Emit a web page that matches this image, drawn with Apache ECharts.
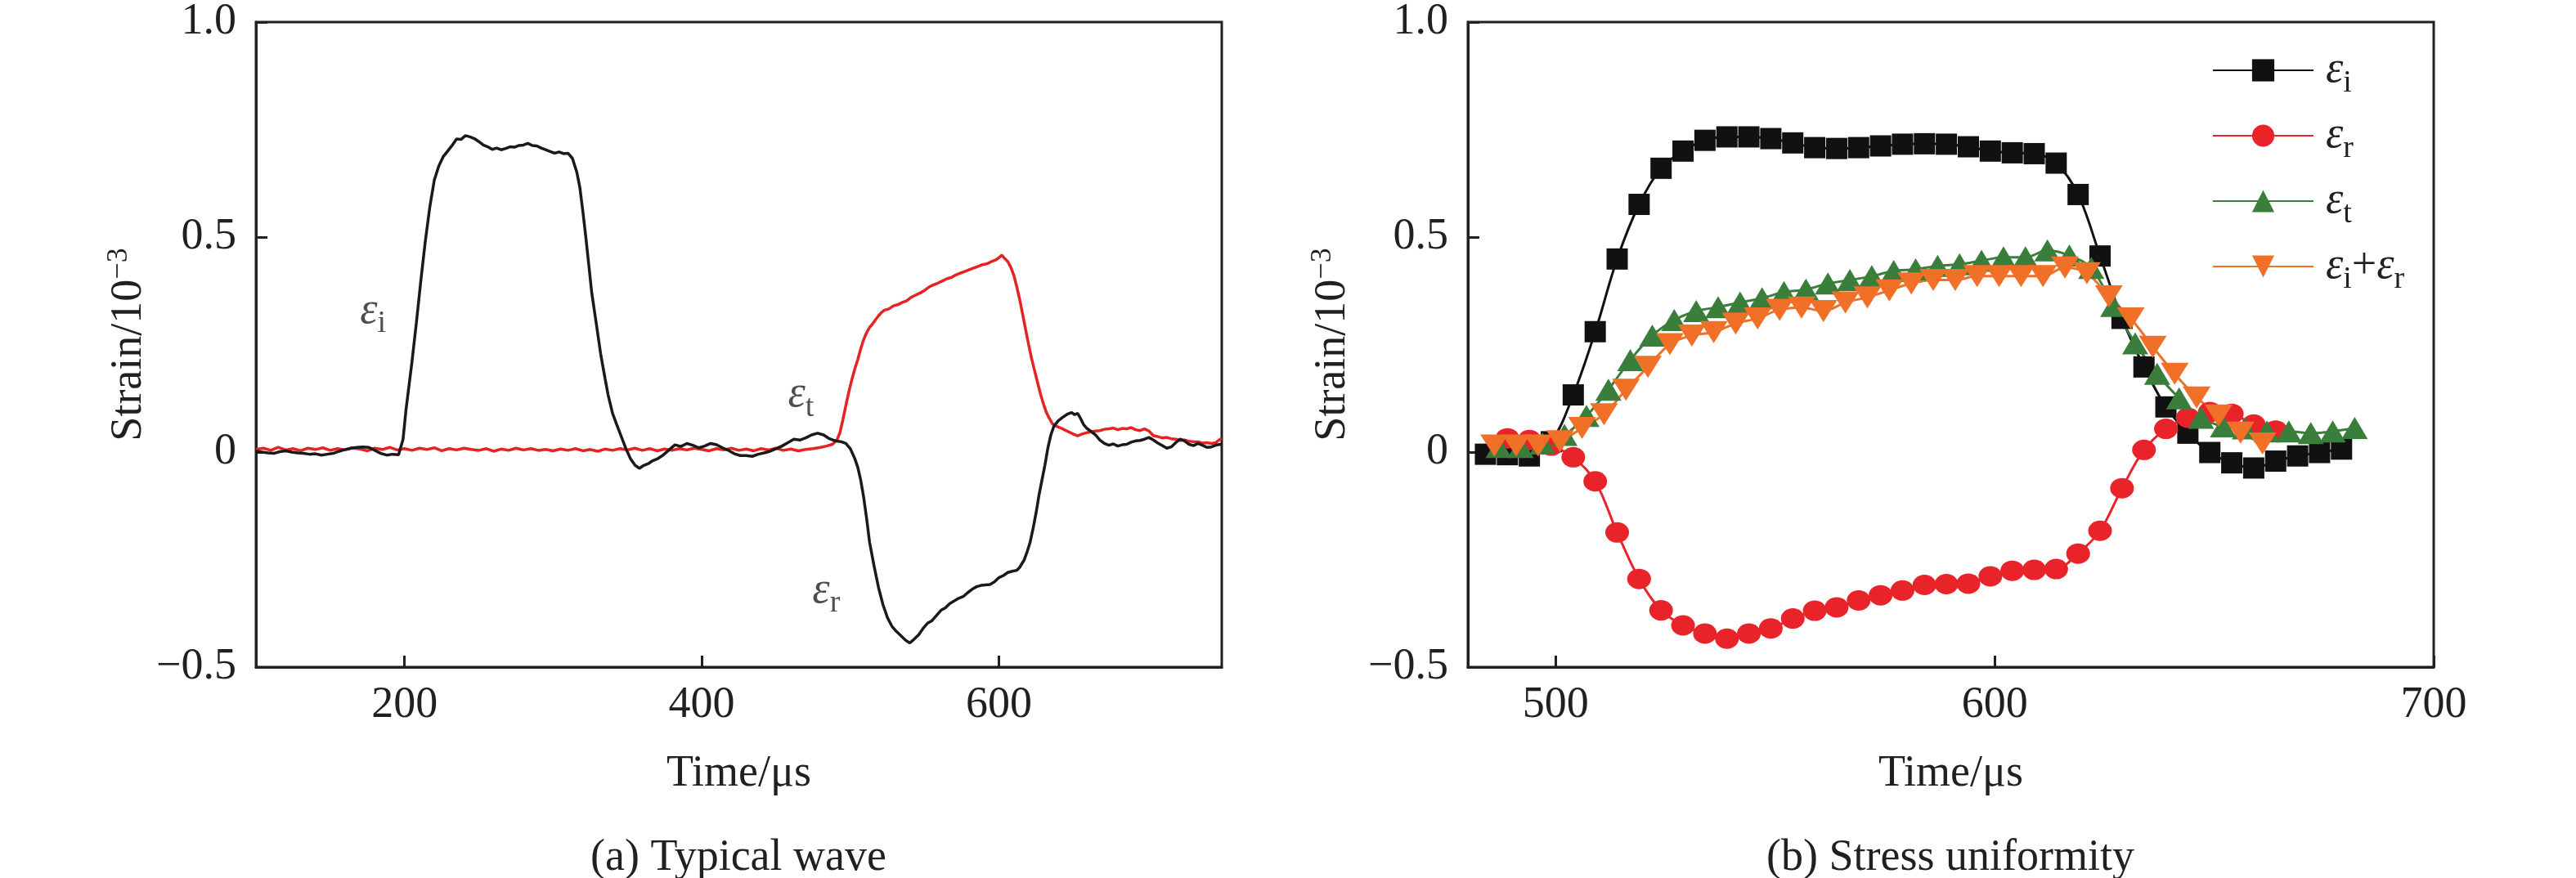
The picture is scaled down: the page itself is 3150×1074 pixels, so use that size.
<!DOCTYPE html>
<html>
<head>
<meta charset="utf-8">
<script src="https://cdn.jsdelivr.net/npm/echarts@6/dist/echarts.min.js"></script>
<style>
html,body{margin:0;padding:0;background:#fff}
#chartmain{width:3150px;height:1074px}
</style>
</head>
<body>
<div id="chartmain"></div>
<script>
// ---- (a) Typical wave: incident bar (black) and transmission bar (red) ----
var barITime = [100,104,108,112,116,120,124,128,132,136,140,144,148,152,156,160,164,168,172,176,180,184,188,192,196,
  199,201,205,208,211,214,217,220,223,226,229,232,235,238,241,244,247,250,253,256,259,262,265,268,271,274,277,280,283,286,289,292,295,298,301,304,307,310,313,316,318,320,322,324,326,329,332,335,337,340,343,346,349,352,355,358,361,364,367,370,374,378,382,386,390,394,398,402,406,410,414,418,422,426,430,434,438,442,446,450,454,458,462,466,470,474,478,482,486,490,494,497,500,503,505,507,509,511,513,516,519,522,525,528,531,534,537,540,543,546,549,552,555,558,561,564,567,570,573,576,579,582,585,588,591,594,597,600,603,606,609,612,614,617,619,621,623,625,627,629,631,633,635,637,640,643,646,649,651,653,655,657,659,662,665,668,671,674,677,680,683,686,689,692,695,698,701,704,707,710,713,716,719,722,725,728,731,734,737,740,743,746,749,750];
var barIStrain = [0.002,0.000,-0.002,-0.003,0.001,0.003,0.000,-0.002,-0.003,-0.005,-0.004,-0.007,-0.005,-0.003,0.002,0.006,0.009,0.011,0.012,0.011,0.004,-0.003,-0.007,-0.005,-0.006,
  0.030,0.099,0.210,0.302,0.400,0.491,0.570,0.632,0.665,0.687,0.700,0.713,0.728,0.727,0.736,0.733,0.729,0.722,0.714,0.710,0.704,0.707,0.703,0.706,0.710,0.709,0.713,0.714,0.718,0.713,0.712,0.707,0.703,0.699,0.695,0.698,0.694,0.695,0.683,0.650,0.615,0.560,0.500,0.435,0.370,0.300,0.228,0.170,0.133,0.090,0.062,0.035,0.008,-0.015,-0.030,-0.038,-0.031,-0.027,-0.020,-0.016,-0.007,0.005,0.017,0.013,0.020,0.016,0.010,0.014,0.020,0.017,0.010,0.004,-0.004,-0.008,-0.008,-0.010,-0.005,-0.002,0.002,0.008,0.014,0.022,0.030,0.028,0.033,0.040,0.044,0.040,0.031,0.026,0.024,0.020,0.008,-0.015,-0.035,-0.065,-0.105,-0.155,-0.210,-0.265,-0.315,-0.355,-0.385,-0.405,-0.417,-0.427,-0.437,-0.444,-0.435,-0.425,-0.410,-0.398,-0.392,-0.380,-0.368,-0.362,-0.352,-0.346,-0.340,-0.336,-0.327,-0.319,-0.313,-0.310,-0.309,-0.308,-0.302,-0.292,-0.287,-0.280,-0.277,-0.275,-0.268,-0.251,-0.232,-0.210,-0.178,-0.142,-0.100,-0.065,-0.030,0.010,0.040,0.060,0.073,0.081,0.088,0.092,0.087,0.090,0.078,0.064,0.056,0.048,0.040,0.028,0.020,0.016,0.019,0.014,0.017,0.018,0.023,0.026,0.027,0.030,0.034,0.028,0.021,0.015,0.009,0.012,0.022,0.030,0.026,0.018,0.015,0.020,0.016,0.011,0.012,0.016,0.018,0.017];

var barTTime = [100,105,110,115,120,125,130,135,140,145,150,155,160,165,170,175,180,185,190,195,200,205,210,215,220,225,230,235,240,245,250,255,260,265,270,275,280,285,290,295,300,305,310,315,320,325,330,335,340,345,350,355,360,365,370,375,380,385,390,395,400,405,410,415,420,425,430,435,440,445,450,455,460,465,470,475,480,
  484,488,491,493,495,497,499,501,503,505,507,509,511,513,515,517,519,521,523,526,529,532,535,538,541,544,547,550,553,556,559,562,565,568,571,574,577,580,583,586,589,592,595,598,600,602,604,606,608,610,612,614,616,618,620,622,624,626,628,630,632,634,636,638,641,644,647,650,653,656,659,662,665,668,671,674,677,680,683,686,689,692,695,698,701,704,707,710,713,716,719,722,725,728,731,734,737,740,743,746,749,750];
var barTStrain = [0.006,0.009,0.004,0.011,0.005,0.008,0.003,0.009,0.006,0.010,0.004,0.008,0.005,0.010,0.007,0.003,0.009,0.006,0.011,0.005,0.008,0.004,0.009,0.006,0.010,0.003,0.008,0.005,0.009,0.006,0.004,0.008,0.002,0.007,0.004,0.009,0.005,0.008,0.004,0.006,0.003,0.007,0.004,0.008,0.003,0.006,0.002,0.007,0.004,0.008,0.005,0.009,0.004,0.008,0.003,0.007,0.004,0.008,0.005,0.009,0.006,0.003,0.008,0.005,0.009,0.004,0.007,0.003,0.008,0.005,0.009,0.004,0.007,0.003,0.006,0.008,0.011,
  0.014,0.018,0.028,0.045,0.075,0.108,0.140,0.168,0.193,0.215,0.240,0.262,0.278,0.290,0.298,0.308,0.317,0.325,0.330,0.333,0.340,0.343,0.348,0.352,0.360,0.365,0.370,0.376,0.384,0.389,0.393,0.398,0.403,0.406,0.412,0.416,0.420,0.424,0.428,0.432,0.436,0.438,0.443,0.447,0.452,0.458,0.450,0.443,0.430,0.412,0.385,0.355,0.320,0.285,0.250,0.218,0.190,0.162,0.135,0.112,0.092,0.078,0.066,0.061,0.057,0.052,0.047,0.042,0.038,0.042,0.045,0.047,0.049,0.050,0.053,0.054,0.056,0.052,0.055,0.054,0.057,0.052,0.050,0.054,0.049,0.038,0.036,0.033,0.034,0.031,0.030,0.027,0.028,0.025,0.024,0.024,0.021,0.022,0.020,0.022,0.030,0.031];

// ---- (b) Stress uniformity ----
var incTime = [484,489,494,499,504,509,514,519,524,529,534,539,544,549,554,559,564,569,574,579,584,589,594,599,604,609,614,619,624,629,634,639,644,649,654,659,664,669,674,679];
var incStrain = [-0.005,-0.006,-0.009,0.024,0.133,0.280,0.449,0.576,0.660,0.700,0.725,0.733,0.733,0.729,0.719,0.708,0.706,0.708,0.712,0.716,0.717,0.716,0.710,0.700,0.696,0.694,0.672,0.599,0.456,0.311,0.198,0.105,0.044,-0.001,-0.025,-0.037,-0.021,-0.009,-0.001,0.007];

var refTime = [489,494,499,504,509,514,519,524,529,534,539,544,549,554,559,564,569,574,579,584,589,594,599,604,609,614,619,624,629,634,639,644,649,654,659,664];
var refStrain = [0.032,0.028,0.015,-0.012,-0.068,-0.187,-0.295,-0.368,-0.403,-0.422,-0.434,-0.422,-0.410,-0.387,-0.369,-0.361,-0.345,-0.333,-0.322,-0.309,-0.307,-0.306,-0.289,-0.276,-0.274,-0.272,-0.236,-0.183,-0.084,0.005,0.054,0.080,0.093,0.089,0.064,0.050];

var traTime = [487,492,497,502,507,512,517,522,527,532,537,542,547,552,557,562,567,572,577,582,587,592,597,602,607,612,617,622,627,632,637,642,647,652,657,662,667,672,677,682];
var traStrain = [0.012,0.012,0.020,0.040,0.084,0.145,0.214,0.271,0.307,0.328,0.337,0.348,0.358,0.372,0.378,0.392,0.400,0.409,0.421,0.425,0.433,0.437,0.445,0.453,0.453,0.469,0.457,0.428,0.340,0.253,0.182,0.125,0.080,0.060,0.055,0.048,0.048,0.044,0.048,0.056];

var sumTime = [486,491,496,501,506,511,516,521,526,531,536,541,546,551,556,561,566,571,576,581,586,591,596,601,606,611,616,621,626,631,636,641,646,651,656,661];
var sumStrain = [0.015,0.015,0.015,0.025,0.056,0.088,0.145,0.198,0.251,0.271,0.279,0.299,0.311,0.331,0.336,0.328,0.348,0.360,0.376,0.392,0.400,0.400,0.409,0.409,0.409,0.409,0.429,0.416,0.362,0.311,0.245,0.182,0.127,0.085,0.045,0.020];

// ticks
var yTicks = [-0.5, 0, 0.5, 1.0];
var yTickLabels = ['\u22120.5', '0', '0.5', '1.0'];
var leftXTicks = [200, 400, 600];
var rightXTicks = [500, 600, 700];

// curve labels in plot (a): [time, strain, subscript]
var waveNotes = [[178.8, 0.328, 'i'], [466.8, 0.133, 't'], [483.8, -0.322, 'r']];

function zip(t, v) {
  return t.map(function (x, i) { return [x, v[i]]; });
}

var FONT = '"Liberation Serif", "Times New Roman", serif';
var INK = '#231f20';
var epsRich = {
  e: {fontFamily: FONT, fontSize: 54, fontStyle: 'italic', color: INK, lineHeight: 70, verticalAlign: 'middle'},
  s: {fontFamily: FONT, fontSize: 38, color: INK, lineHeight: 70, verticalAlign: 'bottom'},
  p: {fontFamily: FONT, fontSize: 54, color: INK, lineHeight: 70, verticalAlign: 'middle'},
  g: {width: 10}
};
var legendText = {
  'εi': '{g|}{e|ε}{s|i}',
  'εr': '{g|}{e|ε}{s|r}',
  'εt': '{g|}{e|ε}{s|t}',
  'εi+εr': '{g|}{e|ε}{s|i}{p|+}{e|ε}{s|r}'
};

function yLabel(v) {
  var i = yTicks.indexOf(v);
  return i >= 0 ? yTickLabels[i] : '';
}

function xAxisOf(grid, min, max, ticks) {
  return {
    type: 'value', gridIndex: grid, min: min, max: max,
    name: 'Time/\u03bcs', nameLocation: 'middle', nameGap: 104,
    nameTextStyle: {fontFamily: FONT, fontSize: 54, color: INK},
    axisLine: {onZero: false, lineStyle: {color: INK, width: 3}},
    axisTick: {inside: true, length: 14, lineStyle: {color: INK, width: 3}, customValues: ticks},
    axisLabel: {margin: 20, fontFamily: FONT, fontSize: 54, color: INK, customValues: ticks},
    splitLine: {show: false}
  };
}

function yAxisOf(grid, gap) {
  return {
    type: 'value', gridIndex: grid, min: -0.5, max: 1.0, interval: 0.5,
    name: '{a|Strain/10}{b|\u22123}', nameLocation: 'middle', nameGap: gap,
    nameTextStyle: {
      rich: {
        a: {fontFamily: FONT, fontSize: 54, color: INK, lineHeight: 60, verticalAlign: 'middle'},
        b: {fontFamily: FONT, fontSize: 36, color: INK, lineHeight: 60, verticalAlign: 'top'}
      }
    },
    axisLine: {onZero: false, lineStyle: {color: INK, width: 3}},
    axisTick: {inside: true, length: 14, lineStyle: {color: INK, width: 3}},
    axisLabel: {margin: 24, fontFamily: FONT, fontSize: 54, color: INK, formatter: yLabel},
    splitLine: {show: false}
  };
}

function markerSeries(name, t, v, color, symbol, size, rotate) {
  return {
    name: name, type: 'line', xAxisIndex: 1, yAxisIndex: 1,
    data: zip(t, v), smooth: 0.35,
    symbol: symbol, symbolSize: size, symbolRotate: rotate || 0,
    showAllSymbol: true,
    lineStyle: {color: color, width: 3},
    itemStyle: {color: color, opacity: 1},
    emphasis: {disabled: true}
  };
}

var option = {
  backgroundColor: '#fff',
  animation: false,
  grid: [
    {left: 313, top: 25, width: 1181, height: 791, show: true, borderColor: INK, borderWidth: 3},
    {left: 1795, top: 25, width: 1181, height: 791, show: true, borderColor: INK, borderWidth: 3}
  ],
  xAxis: [xAxisOf(0, 100, 750, leftXTicks), xAxisOf(1, 480, 700, rightXTicks)],
  yAxis: [yAxisOf(0, 125), yAxisOf(1, 135)],
  legend: {
    data: ['εi', 'εr', 'εt', 'εi+εr'],
    orient: 'vertical', left: 2700, top: 54,
    itemWidth: 123, itemHeight: 34, itemGap: 18,
    formatter: function (n) { return legendText[n]; },
    textStyle: {rich: epsRich},
    selectedMode: false
  },
  graphic: [
    {type: 'text', x: 903, y: 1050, style: {text: '(a) Typical wave', fontFamily: FONT, fontSize: 54, fill: INK, align: 'center', verticalAlign: 'middle'}},
    {type: 'text', x: 2385, y: 1050, style: {text: '(b) Stress uniformity', fontFamily: FONT, fontSize: 54, fill: INK, align: 'center', verticalAlign: 'middle'}}
  ],
  series: [
    {
      type: 'line', xAxisIndex: 0, yAxisIndex: 0, data: zip(barTTime, barTStrain),
      showSymbol: false, lineStyle: {color: '#e52421', width: 3.5}, emphasis: {disabled: true}
    },
    {
      type: 'line', xAxisIndex: 0, yAxisIndex: 0, data: zip(barITime, barIStrain),
      showSymbol: false, lineStyle: {color: '#1a1a1a', width: 3.5}, emphasis: {disabled: true}
    },
    {
      type: 'scatter', xAxisIndex: 0, yAxisIndex: 0, silent: true,
      data: waveNotes.map(function (n) { return {value: [n[0], n[1]], sub: n[2]}; }),
      symbolSize: 1, itemStyle: {color: 'rgba(0,0,0,0)'},
      label: {
        show: true, position: 'inside',
        formatter: function (p) { return '{e|ε}{s|' + p.data.sub + '}'; },
        rich: epsRich
      }
    },
    markerSeries('εi', incTime, incStrain, '#111111', 'rect', 26),
    markerSeries('εr', refTime, refStrain, '#e8242a', 'circle', [29, 25]),
    markerSeries('εt', traTime, traStrain, '#3a7e3c', 'triangle', [32, 27]),
    markerSeries('εi+εr', sumTime, sumStrain, '#f07028', 'triangle', [34, 27], 180)
  ]
};

var myChart = echarts.init(document.getElementById('chartmain'));
myChart.setOption(option);
</script>
</body>
</html>
